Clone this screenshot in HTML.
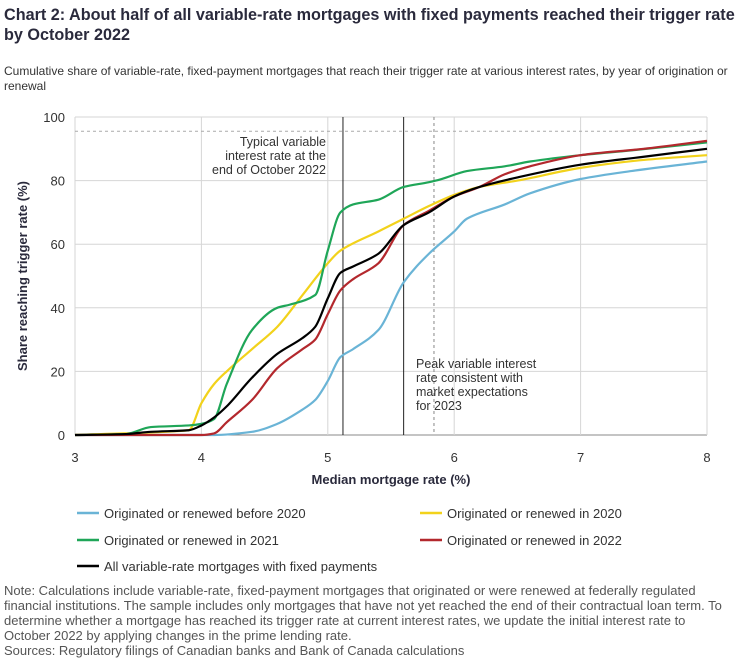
<!DOCTYPE html>
<html><head><meta charset="utf-8"><style>
body{margin:0;width:750px;height:669px;background:#fff;font-family:"Liberation Sans",sans-serif;color:#2b2b3a;position:relative;overflow:hidden}
.t{position:absolute;left:4px;top:5px;width:740px;font-size:16.2px;font-weight:bold;line-height:20px;color:#2a2a3c}
.s{position:absolute;left:4px;top:64px;width:740px;font-size:12px;line-height:15px;color:#333}
.n{position:absolute;left:4px;top:583px;width:746px;font-size:13px;line-height:15px;color:#555;white-space:nowrap}
svg{position:absolute;left:0;top:0}
</style></head><body>
<div class="t">Chart 2: About half of all variable-rate mortgages with fixed payments reached their trigger rate by October 2022</div>
<div class="s">Cumulative share of variable-rate, fixed-payment mortgages that reach their trigger rate at various interest rates, by year of origination or renewal</div>
<svg id="c" width="750" height="669"></svg>
<div class="n">Note: Calculations include variable-rate, fixed-payment mortgages that originated or were renewed at federally regulated<br>financial institutions. The sample includes only mortgages that have not yet reached the end of their contractual loan term. To<br>determine whether a mortgage has reached its trigger rate at current interest rates, we update the initial interest rate to<br>October 2022 by applying changes in the prime lending rate.<br>Sources: Regulatory filings of Canadian banks and Bank of Canada calculations</div>
<script>
const xTicks=[3,4,5,6,7,8];
const yTicks=[0,20,40,60,80,100];
const seriesNames=["Originated or renewed before 2020","Originated or renewed in 2020","Originated or renewed in 2021","Originated or renewed in 2022","All variable-rate mortgages with fixed payments"];
const blueX=[3,4.1,4.4,4.6,4.8,4.9,5,5.1,5.2,5.4,5.6,5.8,6,6.1,6.4,6.6,7,7.4,8];
const blueY=[0,0,1,3.5,8,11,17,24.5,27,33,48,57,64,68,72.5,76,80.5,83,86];
const yellowX=[3,3.9,4,4.1,4.2,4.4,4.6,4.8,5,5.1,5.4,5.6,5.8,6,6.2,6.5,7,7.5,8];
const yellowY=[0,1.5,10,16,20,27,34,44,54,58,64,68,72,75.5,78,80,84,86.5,88];
const greenX=[3,3.4,3.6,3.9,4,4.1,4.2,4.4,4.6,4.7,4.9,5,5.1,5.2,5.4,5.6,5.8,5.9,6.1,6.4,6.6,7,7.4,8];
const greenY=[0,0.3,2.5,3,3.5,5,16,33,40,41,44,58,70,72.5,74,78,79.5,80.5,83,84.5,86,88,89.5,92];
const redX=[3,4,4.1,4.2,4.4,4.6,4.8,4.9,5,5.1,5.2,5.4,5.6,5.8,6,6.2,6.4,6.6,7,7.5,8];
const redY=[0,0,0.5,4,11,21,27,30,38,45.5,49,54,66,70.5,75,78,82,84.5,88,90,92.5];
const blackX=[3,3.4,3.6,3.9,4,4.1,4.2,4.4,4.6,4.8,4.9,5,5.1,5.2,5.4,5.6,5.8,6,6.2,6.5,7,7.5,8];
const blackY=[0,0.3,1,1.5,3,5.5,9,18,25.5,30.5,34,43,51,53,57,66,70,75,78,81,85,87.5,90];
const refLinesX=[5.12,5.6];
const peakX=5.84;
const thresholdY=95.5;

const svg=document.getElementById('c');const NS='http://www.w3.org/2000/svg';
const X0=75,X1=707,Y0=435,Y1=117;
const sx=v=>X0+(v-3)/5*(X1-X0), sy=v=>Y0-v/100*(Y0-Y1);
function el(t,a,p){const e=document.createElementNS(NS,t);for(const k in a)e.setAttribute(k,a[k]);(p||svg).appendChild(e);return e;}
yTicks.forEach(v=>{const g=el('line',{x1:X0,x2:X1,y1:sy(v),y2:sy(v),stroke:v===0?'#888':'#d6d6d6','stroke-width':1});


const t=el('text',{x:X0-10,y:sy(v)+5,'text-anchor':'end','font-size':13,fill:'#333'});t.textContent=v;

});
xTicks.forEach(v=>{const g=el('line',{x1:sx(v),x2:sx(v),y1:Y1,y2:Y0,stroke:'#d6d6d6','stroke-width':1});


const t=el('text',{x:sx(v),y:Y0+27,'text-anchor':'middle','font-size':13,fill:'#333'});t.textContent=v;

});
const th=el('line',{x1:X0,x2:X1,y1:sy(thresholdY),y2:sy(thresholdY),stroke:'#aaa','stroke-dasharray':'3,3'});


refLinesX.forEach(v=>{const l=el('line',{x1:sx(v),x2:sx(v),y1:Y1,y2:Y0,stroke:'#222','stroke-width':1});

});
const pk=el('line',{x1:sx(peakX),x2:sx(peakX),y1:Y1,y2:Y0,stroke:'#888','stroke-dasharray':'3,3'});


function path(xs,ys){const p=xs.map((x,i)=>[sx(x),sy(ys[i])]);const n=p.length;const d=[],m=[];
for(let i=0;i<n-1;i++)d.push((p[i+1][1]-p[i][1])/(p[i+1][0]-p[i][0]));
for(let i=0;i<n;i++){if(i===0)m.push(d[0]);else if(i===n-1)m.push(d[n-2]);else m.push(d[i-1]*d[i]<=0?0:2/(1/d[i-1]+1/d[i]));}
let s='M'+p[0];for(let i=0;i<n-1;i++){const h=(p[i+1][0]-p[i][0])/3;s+='C'+[p[i][0]+h,p[i][1]+m[i]*h]+' '+[p[i+1][0]-h,p[i+1][1]-m[i+1]*h]+' '+p[i+1];}return s;}
const series=[[blueX,blueY,'#6ab4d6','series-before-2020'],[yellowX,yellowY,'#f2d21b','series-2020'],[greenX,greenY,'#1fa658','series-2021'],[redX,redY,'#b3282d','series-2022'],[blackX,blackY,'#000','series-all']];
series.forEach(s=>{const p=el('path',{d:path(s[0],s[1]),fill:'none',stroke:s[2],'stroke-width':2.2,'stroke-linejoin':'round'});

});
function txt(lines,x,y,anchor,name){const t=el('text',{x:x,y:y,'text-anchor':anchor,'font-size':12.5,fill:'#333'});lines.forEach((s,i)=>{const ts=el('tspan',{x:x,dy:i?14:0},t);ts.textContent=s;});

}
txt(['Typical variable','interest rate at the','end of October 2022'],326,146,'end','annotation-typical-rate');
txt(['Peak variable interest','rate consistent with','market expectations','for 2023'],416,368,'start','annotation-peak-rate');
const xt=el('text',{x:391,y:484,'text-anchor':'middle','font-size':13,'font-weight':'bold',fill:'#2a2a3c'});xt.textContent='Median mortgage rate (%)';


const yt=el('text',{x:0,y:0,'text-anchor':'middle','font-size':13,'font-weight':'bold',fill:'#2a2a3c',transform:'translate(27,276) rotate(-90)'});yt.textContent='Share reaching trigger rate (%)';


const legPos=[[77,513],[420,513],[77,540],[420,540],[77,566]];
series.forEach((s,i)=>{const l=el('line',{x1:legPos[i][0],x2:legPos[i][0]+22,y1:legPos[i][1],y2:legPos[i][1],stroke:s[2],'stroke-width':2.5});


const t=el('text',{x:legPos[i][0]+27,y:legPos[i][1]+5,'font-size':13,fill:'#333'});t.textContent=seriesNames[i];

});
</script>
</body></html>
